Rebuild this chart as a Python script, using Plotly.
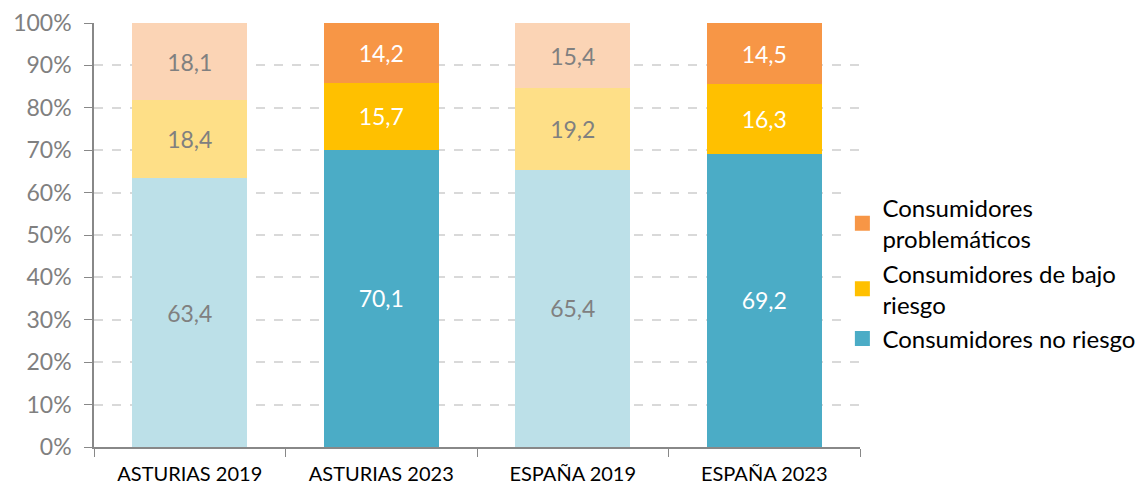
import plotly.graph_objects as go

categories = ["ASTURIAS 2019", "ASTURIAS 2023", "ESPAÑA 2019", "ESPAÑA 2023"]
no_riesgo = [63.4, 70.1, 65.4, 69.2]
bajo_riesgo = [18.4, 15.7, 19.2, 16.3]
problematicos = [18.1, 14.2, 15.4, 14.5]
series_names = ["Consumidores no riesgo", "Consumidores de bajo<br>riesgo", "Consumidores<br>problemáticos"]
y_ticks = [0, 10, 20, 30, 40, 50, 60, 70, 80, 90, 100]
y_tick_text = [f"{v}%" for v in y_ticks]

light = ["#BCE0E8", "#FEDF87", "#FBD4B5"]
dark = ["#4BACC6", "#FFC000", "#F79646"]
text_light = "#808080"
text_dark = "#FFFFFF"
FONT = "Lato"

def fmt(v):
    return f"{v:.1f}".replace(".", ",")

fig = go.Figure()
all_series = [no_riesgo, bajo_riesgo, problematicos]
for i, vals in enumerate(all_series):
    colors = [light[i], dark[i], light[i], dark[i]]
    tcolors = [text_light, text_dark, text_light, text_dark]
    fig.add_trace(go.Bar(
        x=categories, y=vals, name=series_names[i],
        marker=dict(color=colors, line=dict(width=0)),
        text=[fmt(v) for v in vals], textposition="inside", insidetextanchor="middle",
        textfont=dict(color=tcolors, size=23, family=FONT),
        textangle=0, showlegend=False, hoverinfo="skip",
    ))
for i in range(3):
    fig.add_trace(go.Scatter(x=[categories[0]], y=[None], name=series_names[i],
                             mode="markers", legendgroup=str(i),
                             marker=dict(color=dark[i], symbol="square", size=15),
                             showlegend=True))

fig.update_layout(
    barmode="stack", bargap=0.4,
    width=1139, height=483,
    margin=dict(l=86, r=287, t=15, b=44, autoexpand=False),
    plot_bgcolor="white", paper_bgcolor="white",
    font=dict(family=FONT, size=18, color="#000000"),
    legend=dict(x=0.977, y=0.41, xanchor="left", yanchor="middle",
                traceorder="reversed", font=dict(size=24, color="#000000"),
                tracegroupgap=8, itemwidth=30),
    xaxis=dict(showline=True, linecolor="#888888", linewidth=1.5, ticks="outside",
               tickson="boundaries", ticklen=8, tickcolor="#888888",
               tickfont=dict(size=20, color="#000000"), showgrid=False,
               ticklabelstandoff=8, automargin=False),
    yaxis=dict(range=[0, 100], tickmode="array", tickvals=y_ticks, ticktext=y_tick_text,
               showline=True, linecolor="#888888", linewidth=1.5, ticks="outside",
               ticklen=8, tickcolor="#888888", tickfont=dict(size=23, color="#808080"),
               ticklabelstandoff=8,
               showgrid=True, gridcolor="#D9D9D9", griddash="dash", gridwidth=1.5,
               zeroline=False, automargin=False),
)
fig.write_html("out.html")
